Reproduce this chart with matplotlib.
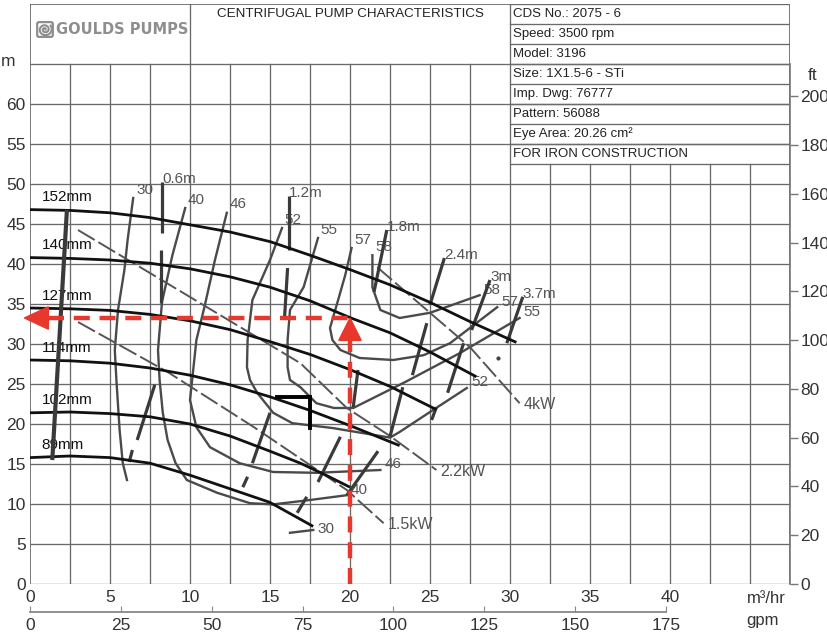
import numpy as np
import matplotlib.pyplot as plt
from matplotlib.patches import Polygon, FancyBboxPatch

plt.rcParams['font.family'] = ['Liberation Sans', 'DejaVu Sans']

# axes ticks
flow_ticks = [0, 5, 10, 15, 20, 25, 30, 35, 40]
head_ticks = [0, 5, 10, 15, 20, 25, 30, 35, 40, 45, 50, 55, 60]
ft_ticks = [0, 20, 40, 60, 80, 100, 120, 140, 160, 180, 200]
gpm_ticks = [0, 25, 50, 75, 100, 125, 150, 175]

# impeller head curves, flow in m3/hr, head in m
imp_labels = ['152mm', '140mm', '127mm', '114mm', '102mm', '89mm']
q_152 = [0, 2.5, 5, 7.5, 10, 12.5, 15, 17.5, 20, 22.5, 25, 27.5, 30.4]
h_152 = [46.8, 46.7, 46.4, 45.8, 44.9, 44.0, 42.8, 41.1, 39.3, 37.4, 35.2, 32.8, 30.2]
q_140 = [0, 2.5, 5, 7.5, 10, 12.5, 15, 17.5, 20, 22.5, 25, 27.9]
h_140 = [40.8, 40.7, 40.5, 40.1, 39.4, 38.4, 37.1, 35.4, 33.3, 31.4, 29.0, 25.9]
q_127 = [0, 2.5, 5, 7.5, 10, 12.5, 15, 17.5, 20, 22.5, 25.4]
h_127 = [34.5, 34.4, 34.2, 33.7, 32.9, 31.8, 30.3, 28.7, 26.8, 24.7, 21.8]
q_114 = [0, 2.5, 5, 7.5, 10, 12.5, 15, 17.5, 20, 23.1]
h_114 = [28.0, 27.9, 27.6, 27.0, 26.1, 24.9, 23.4, 21.7, 19.8, 17.3]
q_102 = [0, 2.5, 5, 7.5, 10, 12.5, 15, 16.9, 18.5, 20]
h_102 = [21.4, 21.5, 21.3, 20.9, 20.0, 18.5, 16.6, 15.1, 13.6, 12.1]
q_89 = [0, 2.5, 5, 7.5, 10, 12.5, 15, 17.7]
h_89 = [15.8, 16.0, 15.8, 15.1, 13.6, 11.9, 10.2, 7.2]

# efficiency contours (%)
eff_labels = ['30', '40', '46', '52', '55', '57', '58']
q_e30 = [6.45, 6.1, 5.9, 5.5, 5.3, 5.4, 5.6, 5.8, 6.06]
h_e30 = [48.25, 43.0, 39.25, 34.25, 29.25, 25.5, 19.25, 15.1, 13.0]
q_e40 = [9.7, 8.9, 8.25, 8.0, 8.1, 8.3, 8.6, 9.1, 9.8, 11.7, 13.75, 15.2, 17.5, 19.8]
h_e40 = [47.0, 41.1, 35.25, 29.25, 25.5, 21.4, 18.0, 15.1, 13.0, 11.4, 10.1, 9.95, 10.5, 11.1]
q_e46 = [12.3, 11.56, 10.9, 10.4, 10.2, 10.0, 10.4, 11.25, 13.1, 15.2, 17.9, 21.9]
h_e46 = [46.4, 40.5, 34.6, 30.5, 26.75, 23.0, 19.6, 17.1, 15.1, 14.0, 13.9, 14.25]
q_e52 = [15.75, 15.0, 13.9, 13.6, 13.56, 13.75, 14.2, 15.2, 16.4, 18.9, 22.5, 23.1, 25.0, 27.3]
h_e52 = [44.5, 40.5, 35.5, 30.5, 27.1, 25.5, 23.9, 21.4, 20.1, 19.5, 18.3, 19.0, 21.5, 24.5]
q_e55 = [18.0, 17.1, 16.25, 16.1, 16.1, 16.25, 16.9, 17.9, 19.0, 20.2, 23.5, 26.9, 30.6]
h_e55 = [43.25, 37.1, 34.25, 30.5, 27.1, 25.5, 24.6, 22.6, 22.0, 22.0, 25.3, 28.9, 33.25]
q_e57 = [20.1, 19.7, 19.2, 18.75, 18.9, 19.4, 20.6, 22.7, 24.6, 26.25, 29.2]
h_e57 = [42.0, 38.6, 35.1, 32.0, 30.5, 29.25, 28.25, 28.0, 28.6, 30.1, 34.6]
q_e58 = [21.4, 21.4, 21.9, 23.1, 25.0, 26.7, 28.1]
h_e58 = [41.1, 37.1, 34.25, 33.25, 33.9, 35.1, 36.1]
q_e30_low = [16.25, 17.7]
h_e30_low = [6.4, 6.75]

# power lines
kw_labels = ['1.5kW', '2.2kW', '4kW']
q_kw15 = [3.0, 8.6, 14.0, 19.8, 22.1]
h_kw15 = [32.75, 26.5, 19.6, 11.75, 7.6]
q_kw22 = [3.0, 8.56, 16.9, 19.8, 22.5, 25.4]
h_kw22 = [44.25, 37.6, 27.6, 22.0, 18.5, 14.25]
q_kw4 = [21.7, 25.0, 27.5, 30.6]
h_kw4 = [39.6, 33.9, 29.6, 22.6]

# NPSHr lines, drawn as broken pieces (start q, start h, end q, end h)
npsh_labels = ['0.6m', '1.2m', '1.8m', '2.4m', '3m', '3.7m']
npsh_06 = [(8.25, 50.25, 8.25, 43.9), (8.2, 41.75, 8.2, 35.1),
           (7.8, 24.9, 6.7, 18.0), (6.4, 16.75, 6.2, 15.25)]
npsh_12 = [(16.2, 48.5, 16.2, 41.75), (16.1, 39.5, 15.9, 33.0),
           (15.0, 21.4, 13.9, 15.1), (13.6, 13.4, 13.3, 12.1)]
npsh_18 = [(22.3, 44.25, 21.5, 36.5), (20.5, 26.75, 20.2, 22.1),
           (19.4, 18.4, 18.0, 12.75), (17.3, 10.9, 16.7, 8.9)]
npsh_24 = [(25.9, 40.75, 25.0, 34.9), (24.8, 32.6, 23.9, 26.1),
           (23.3, 24.6, 22.5, 18.4), (21.75, 16.6, 19.8, 11.1)]
npsh_30 = [(28.75, 38.0, 27.6, 31.75), (27.1, 30.1, 26.1, 23.9),
           (25.4, 22.1, 25.1, 20.5)]
npsh_37 = [(30.8, 35.9, 29.8, 30.1)]

# minimum flow line and operating point
q_minflow = [2.3, 1.4]
h_minflow = [46.5, 15.75]
q_corner = [15.44, 17.5, 17.5]
h_corner = [23.4, 23.4, 19.5]
duty_q = 20.0
duty_h = 33.25

info_rows = ['CDS No.: 2075 - 6', 'Speed: 3500 rpm', 'Model: 3196',
             'Size: 1X1.5-6 - STi', 'Imp. Dwg: 76777', 'Pattern: 56088',
             'Eye Area: 20.26 cm\u00b2', 'FOR IRON CONSTRUCTION']

M_TO_FT = 3.28084
M3H_TO_GPM = 4.40287
QMAX, HMAX = 47.5, 72.5
GRID_TOP, TABLE_Q, TABLE_H = 65, 30, 52.5

fig = plt.figure(figsize=(8.28, 6.35), dpi=100)
ax = fig.add_axes([30 / 828, 51 / 635, 760 / 828, 580 / 635])
ax.set_xlim(0, QMAX)
ax.set_ylim(0, HMAX)
for s in ax.spines.values():
    s.set_visible(False)

gc = '#6a6a6a'
glw = 0.95
# vertical grid
for x in np.arange(2.5, QMAX, 2.5):
    top = GRID_TOP if x < TABLE_Q else TABLE_H
    if x == TABLE_Q:
        top = HMAX
    ax.plot([x, x], [0, top], color=gc, lw=glw, zorder=1)
ax.plot([10, 10], [GRID_TOP, HMAX], color=gc, lw=glw, zorder=1)
ax.plot([0, 0], [0, HMAX], color='#555', lw=1.1, zorder=1)
ax.plot([QMAX, QMAX], [0, HMAX], color='#555', lw=1.1, zorder=1)
# horizontal grid
for y in np.arange(0, GRID_TOP + 1, 5):
    x1 = QMAX if (y <= 50 or y >= 55) else TABLE_Q
    ax.plot([0, x1], [y, y], color=gc, lw=glw, zorder=1)
ax.plot([0, QMAX], [HMAX, HMAX], color='#555', lw=1.1, zorder=1)
# info table rows
row_h = (HMAX - TABLE_H) / len(info_rows)
for i in range(len(info_rows) + 1):
    y = TABLE_H + i * row_h
    ax.plot([TABLE_Q, QMAX], [y, y], color=gc, lw=glw, zorder=1)
for i, txt in enumerate(info_rows):
    y = HMAX - (i + 0.5) * row_h
    ax.text(TABLE_Q + 0.2, y, txt, fontsize=9.5, va='center', ha='left',
            color='#222')

ax.text(20, 71.2, 'CENTRIFUGAL PUMP CHARACTERISTICS', fontsize=9.6,
        ha='center', va='center', color='#222')
ax.text(1.65, 69.35, 'GOULDS PUMPS', fontsize=10.5, ha='left', va='center',
        color='#8e8e8e', family='DejaVu Sans', weight='bold')

# spiral logo mark
lax = fig.add_axes([36 / 828, (635 - 38) / 635, 18 / 828, 17 / 635])
lax.set_xlim(-1.15, 1.15)
lax.set_ylim(-1.15, 1.15)
lax.axis('off')
lax.add_patch(FancyBboxPatch((-1, -1), 2, 2, boxstyle='round,pad=0,rounding_size=0.25',
                             fc='none', ec='#8e8e8e', lw=1.6))
t = np.linspace(0, 4.2 * np.pi, 200)
r = 0.08 + 0.062 * t
lax.plot(r * np.cos(t), r * np.sin(t), color='#8e8e8e', lw=1.5)

# impeller curves
imp_q = [q_152, q_140, q_127, q_114, q_102, q_89]
imp_h = [h_152, h_140, h_127, h_114, h_102, h_89]
for q, h, lab in zip(imp_q, imp_h, imp_labels):
    ax.plot(q, h, color='#111', lw=2.0, zorder=4, solid_capstyle='butt')
    ax.annotate(lab, (q[0], h[0]), xytext=(8.5, 9), textcoords='offset points',
                fontsize=11, ha='left', va='center', color='#111')

# efficiency contours
eff_q = [q_e30, q_e40, q_e46, q_e52, q_e55, q_e57, q_e58]
eff_h = [h_e30, h_e40, h_e46, h_e52, h_e55, h_e57, h_e58]
ec = '#4a4a4a'
for q, h, lab in zip(eff_q, eff_h, eff_labels):
    ax.plot(q, h, color=ec, lw=1.7, zorder=3)
    ax.annotate(lab, (q[0], h[0]), xytext=(2, 1), textcoords='offset points',
                fontsize=11, ha='left', va='bottom', color='#555')
for lab, q, h in zip(['40', '46', '52', '55', '57', '58'],
                     [q_e40, q_e46, q_e52, q_e55, q_e57, q_e58],
                     [h_e40, h_e46, h_e52, h_e55, h_e57, h_e58]):
    ax.annotate(lab, (q[-1], h[-1]), xytext=(3, 4), textcoords='offset points',
                fontsize=11, ha='left', va='center', color='#555')
ax.plot(q_e30_low, h_e30_low, color=ec, lw=1.7, zorder=3)
ax.annotate('30', (q_e30_low[-1], h_e30_low[-1]), xytext=(3, 1),
            textcoords='offset points', fontsize=11, ha='left', va='center',
            color='#555')

# power lines
for q, h, lab in zip([q_kw15, q_kw22, q_kw4], [h_kw15, h_kw22, h_kw4], kw_labels):
    ax.plot(q, h, color='#555', lw=1.4, ls=(0, (10, 2.2)), zorder=3)
    ax.annotate(lab, (q[-1], h[-1]), xytext=(3, -1), textcoords='offset points',
                fontsize=11.5, ha='left', va='center', color='#555')
ax.plot([29.25], [28.25], marker='o', ms=2, color='#444', zorder=3)

# NPSHr lines
for segs, lab in zip([npsh_06, npsh_12, npsh_18, npsh_24, npsh_30, npsh_37], npsh_labels):
    for q0, h0, q1, h1 in segs:
        ax.plot([q0, q1], [h0, h1], color='#3a3a3a', lw=2.3, zorder=3,
                solid_capstyle='butt')
    ax.annotate(lab, (segs[0][0], segs[0][1]), xytext=(0, -3),
                textcoords='offset points', fontsize=11, ha='left',
                va='bottom', color='#555')

ax.plot(q_minflow, h_minflow, color='#3a3a3a', lw=3.0, zorder=4)
ax.plot(q_corner, h_corner, color='#000', lw=2.8, zorder=5,
        solid_joinstyle='miter')

# operating point marker
red = '#e8382d'
ax.plot([duty_q, duty_q], [0, duty_h - 2.6], color=red, lw=3.2,
        ls=(0, (3.6, 2.2)), zorder=6)
ax.plot([1.1, duty_q], [duty_h, duty_h], color=red, lw=3.2,
        ls=(0, (3.6, 2.2)), zorder=6)
ax.add_patch(Polygon([(duty_q, duty_h), (duty_q - 0.7, duty_h - 2.8),
                      (duty_q + 0.7, duty_h - 2.8)], color=red, zorder=7))
ax.add_patch(Polygon([(-0.35, duty_h), (1.15, duty_h + 1.4),
                      (1.15, duty_h - 1.4)], color=red, zorder=7, clip_on=False))

# tick labels
ax.set_xticks(flow_ticks)
ax.set_yticks(head_ticks)
ax.tick_params(length=0, labelsize=12.5, colors='#333', pad=4)
ax.tick_params(axis='y', pad=3)
ax.text(-0.9, 65.3, 'm', fontsize=12.5, ha='right', va='center', color='#333')
ax.text(46.0, -1.8, 'm\u00b3/hr', fontsize=12, ha='center', va='center',
        color='#333', clip_on=False)
ax.text(45.8, -4.6, 'gpm', fontsize=12, ha='center', va='center',
        color='#333', clip_on=False)

# feet axis on the right
axr = ax.twinx()
axr.set_ylim(0, HMAX * M_TO_FT)
axr.set_yticks(ft_ticks)
for k, s in axr.spines.items():
    s.set_visible(k == 'right')
axr.spines['right'].set_color('#777')
axr.spines['right'].set_linewidth(1.2)
axr.spines['right'].set_bounds(0, GRID_TOP * M_TO_FT)
axr.tick_params(axis='y', direction='out', length=6, width=1, color='#777',
                labelsize=12.5, labelcolor='#333', pad=1.5)
ax.text(48.9, 63.6, 'ft', fontsize=12.5, ha='center', va='center',
        color='#333', clip_on=False)

# gpm scale under the flow axis
axg = fig.add_axes([30 / 828, 23 / 635, 760 / 828, 0.0005])
axg.set_xlim(0, QMAX * M3H_TO_GPM)
axg.patch.set_visible(False)
for k, s in axg.spines.items():
    s.set_visible(k == 'bottom')
axg.spines['bottom'].set_bounds(0, 175)
axg.spines['bottom'].set_color('#888')
axg.spines['bottom'].set_linewidth(1.3)
axg.set_yticks([])
axg.set_xticks(gpm_ticks)
axg.tick_params(axis='x', direction='in', length=4, color='#888',
                labelsize=12.5, labelcolor='#333', pad=4)

fig.savefig('out.png', dpi=100)
